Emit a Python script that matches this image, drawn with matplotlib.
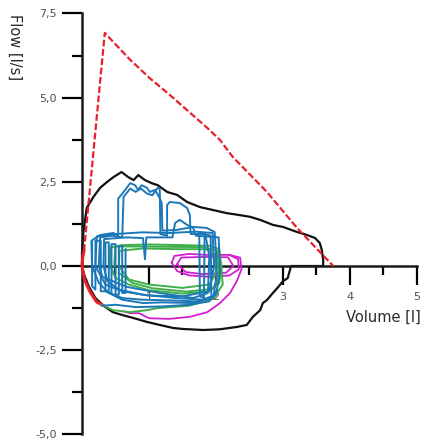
import matplotlib
matplotlib.use('Agg')
import matplotlib.pyplot as plt
from matplotlib.ticker import FixedLocator

# predicted curve (red dashed), with a solid piece near the origin
pred_vol = [0.03, 0.34, 0.72, 1.01, 1.31, 1.87, 2.06, 2.25, 2.76, 3.21, 3.75]
pred_flow = [0.45, 6.92, 6.12, 5.58, 5.08, 4.10, 3.74, 3.24, 2.2, 1.13, 0.0]
pred_low_vol = [0.31, 0.22, 0.12, 0.04, 0.0, 0.01, 0.03]
pred_low_flow = [-1.16, -1.07, -0.77, -0.42, 0.0, 0.25, 0.45]

# maximal loop (black)
max_vol = [0.0, 0.0, 0.02, 0.07, 0.17, 0.27, 0.37, 0.47, 0.59, 0.69, 0.77, 0.84, 0.94, 1.04, 1.13,
           1.27, 1.42, 1.57, 1.76, 1.96, 2.16, 2.36, 2.51, 2.66, 2.85, 3.0, 3.21, 3.36, 3.48, 3.55,
           3.58, 3.6, 3.6, 3.12, 3.07, 3.0, 2.93, 2.85, 2.76, 2.70, 2.66, 2.55, 2.46, 2.31, 2.05,
           1.81, 1.51, 1.36, 1.16, 0.97, 0.76, 0.61, 0.46, 0.31, 0.2, 0.1, 0.03, 0.0]
max_flow = [0.0, 0.4, 1.0, 1.72, 2.05, 2.32, 2.49, 2.64, 2.79, 2.64, 2.55, 2.70, 2.55, 2.46, 2.40,
            2.2, 2.11, 1.90, 1.75, 1.66, 1.57, 1.51, 1.46, 1.37, 1.22, 1.16, 1.01, 0.92, 0.83, 0.68,
            0.47, 0.18, 0.0, 0.0, -0.36, -0.45, -0.62, -0.80, -1.01, -1.10, -1.31, -1.51, -1.75, -1.81, -1.88,
            -1.90, -1.87, -1.84, -1.75, -1.66, -1.54, -1.46, -1.37, -1.16, -0.95, -0.6, -0.25, 0.0]

# magenta tidal loops
mag_loops = [
    ([1.34, 1.38, 1.6, 1.85, 2.2, 2.33, 2.34, 2.2, 1.9, 1.6, 1.42, 1.34],
     [0.1, 0.3, 0.36, 0.33, 0.33, 0.2, -0.1, -0.28, -0.32, -0.28, -0.15, 0.1]),
    ([1.42, 1.48, 1.8, 2.18, 2.26, 2.15, 1.8, 1.55, 1.42],
     [0.05, 0.25, 0.27, 0.26, 0.0, -0.2, -0.24, -0.18, 0.05]),
    ([2.2, 2.36, 2.38, 2.31, 2.21, 2.06, 1.87, 1.61, 1.3, 1.0, 0.85, 0.72, 0.62],
     [0.33, 0.25, -0.1, -0.45, -0.8, -1.1, -1.37, -1.51, -1.57, -1.55, -1.4, -1.4, -1.35]),
]

# green tidal loops
green_loops = [
    ([0.42, 0.42, 0.6, 1.0, 1.5, 1.9, 2.05, 2.08, 2.05, 1.9, 1.5, 1.0, 0.7, 0.5, 0.42],
     [0.0, 0.55, 0.62, 0.64, 0.62, 0.6, 0.5, 0.0, -0.5, -0.75, -0.82, -0.72, -0.55, -0.35, 0.0]),
    ([0.55, 0.56, 0.9, 1.4, 1.85, 1.98, 2.0, 1.9, 1.5, 1.0, 0.7, 0.55],
     [0.0, 0.45, 0.52, 0.5, 0.5, 0.35, -0.2, -0.55, -0.65, -0.55, -0.4, 0.0]),
    ([0.48, 0.5, 0.8, 1.3, 1.8, 2.02, 2.04, 1.95, 1.55, 1.05, 0.75, 0.55],
     [0.0, 0.58, 0.58, 0.57, 0.56, 0.45, -0.35, -0.68, -0.76, -0.66, -0.5, -0.2]),
    ([2.08, 2.1, 1.96, 1.6, 1.12, 0.97, 0.72, 0.46, 0.3],
     [0.0, -0.55, -0.98, -1.18, -1.25, -1.31, -1.37, -1.31, -1.15]),
]

# blue tidal loops
blue_loops = [
    ([0.15, 0.14, 0.27, 0.47, 0.54, 0.54, 0.61, 0.72, 0.79, 0.84, 0.89, 0.97, 1.01, 1.09, 1.16, 1.19,
      1.2, 1.41, 1.66, 1.86, 1.98, 2.0, 2.01, 1.96, 1.66, 1.2, 0.91, 0.6, 0.4, 0.25, 0.15],
     [0.0, 0.75, 0.92, 0.98, 0.9, 2.0, 2.17, 2.46, 2.40, 2.26, 2.40, 2.32, 2.2, 2.26, 2.02, 1.87,
      1.05, 1.07, 1.16, 1.13, 1.01, 0.4, -0.3, -0.92, -1.1, -1.08, -1.1, -1.0, -0.8, -0.5, 0.0]),
    ([0.25, 0.27, 0.45, 0.6, 0.62, 0.72, 0.8, 0.88, 0.97, 1.05, 1.13, 1.16, 1.17, 1.27, 1.27, 1.31,
      1.46, 1.57, 1.61, 1.62, 1.84, 1.9, 1.88, 1.66, 1.16, 0.67, 0.31, 0.25],
     [0.0, 0.85, 0.9, 0.85, 2.05, 2.3, 2.2, 2.3, 2.15, 2.1, 2.32, 2.3, 0.95, 0.9, 1.81, 1.9,
      1.87, 1.72, 1.51, 0.95, 0.95, 0.3, -0.8, -0.95, -0.8, -0.62, -0.33, 0.0]),
    ([0.32, 0.33, 0.67, 0.91, 0.94, 0.96, 1.35, 1.39, 1.46, 1.57, 1.66, 1.7, 2.04, 2.06, 2.0, 1.8,
      1.4, 0.9, 0.55, 0.38, 0.32],
     [0.0, 0.8, 0.85, 0.83, 0.2, 0.85, 0.85, 1.28, 1.37, 1.22, 1.13, 0.9, 0.85, -0.2, -0.85, -1.0,
      -0.95, -0.85, -0.7, -0.45, 0.0]),
    ([0.2, 0.22, 0.5, 0.9, 1.3, 1.7, 1.95, 1.97, 1.9, 1.5, 1.0, 0.6, 0.35, 0.2],
     [0.0, 0.88, 0.95, 1.0, 0.98, 1.02, 0.98, 0.0, -0.75, -0.9, -0.88, -0.75, -0.55, 0.0]),
    ([0.15, 0.15, 0.2, 0.2, 0.28, 0.28, 0.35, 0.35, 0.4, 0.4, 0.44, 0.44, 0.5, 0.5, 0.55, 0.55,
      0.6, 0.6, 0.65, 0.65],
     [0.7, -0.6, -0.7, 0.75, 0.75, -0.75, -0.75, 0.7, 0.7, -0.8, -0.8, 0.65, 0.65, -0.85, -0.85, 0.6,
      0.6, -0.8, -0.8, 0.5]),
    ([1.75, 1.76, 1.82, 1.83, 1.92, 1.93],
     [1.0, -0.9, -0.95, 0.95, 0.9, -0.85]),
    ([0.3, 0.5, 0.8, 1.2, 1.6, 1.9, 2.02],
     [-1.18, -1.15, -1.22, -1.2, -1.15, -1.05, -0.7]),
    ([0.35, 0.6, 0.9, 1.3, 1.7, 1.95],
     [-0.75, -0.95, -1.0, -1.02, -1.05, -0.95]),
]

x_ticks = [1, 2, 3, 4, 5]
x_minor = [0.5, 1.5, 2.5, 3.5, 4.5]
y_ticks = [-5.0, -2.5, 0.0, 2.5, 5.0, 7.5]
y_minor = [-3.75, -1.25, 1.25, 3.75, 6.25]
y_labels = ['-5,0', '-2,5', '0,0', '2,5', '5,0', '7,5']

fig = plt.figure(figsize=(4.22, 4.46), dpi=100)
ax = fig.add_axes([0, 0, 1, 1])
ax.set_xlim(-1.224, 5.075)
ax.set_ylim(-5.344, 7.898)

ax.plot(max_vol, max_flow, color='#111111', lw=1.6, zorder=2)
ax.plot(pred_vol, pred_flow, color='#e8202a', lw=1.6, ls=(0, (3, 1.2)), zorder=3)
ax.plot(pred_low_vol, pred_low_flow, color='#e8202a', lw=2.2, zorder=3)
for v, f in mag_loops:
    ax.plot(v, f, color='#d21ed2', lw=1.3, zorder=3)
for v, f in green_loops:
    ax.plot(v, f, color='#3fae49', lw=1.4, zorder=4)
for v, f in blue_loops:
    ax.plot(v, f, color='#1b78b8', lw=1.4, zorder=5)

ax.set_axisbelow(True)
for s in ['top', 'right']:
    ax.spines[s].set_visible(False)
ax.spines['left'].set_position(('data', 0))
ax.spines['bottom'].set_position(('data', 0))
ax.spines['left'].set_bounds(-5, 7.5)
ax.spines['bottom'].set_bounds(0, 5)
for s in ['left', 'bottom']:
    ax.spines[s].set_linewidth(1.8)
    ax.spines[s].set_color('#1a1a1a')

ax.xaxis.set_major_locator(FixedLocator(x_ticks))
ax.xaxis.set_minor_locator(FixedLocator(x_minor))
ax.set_xticklabels([str(t) for t in x_ticks])
ax.yaxis.set_major_locator(FixedLocator(y_ticks))
ax.yaxis.set_minor_locator(FixedLocator(y_minor))
ax.set_yticklabels(y_labels)
ax.tick_params(axis='x', which='major', direction='out', length=13.5, width=1.6,
               labelsize=8, labelcolor='#505050', pad=5)
ax.tick_params(axis='x', which='minor', direction='out', length=6.5, width=1.6)
ax.tick_params(axis='y', which='major', direction='out', length=14.4, width=1.6,
               labelsize=8, labelcolor='#505050', pad=3.6)
ax.tick_params(axis='y', which='minor', direction='out', length=7.2, width=1.6)

fig.text(15 / 422, 1 - 47 / 446, 'Flow [l/s]', rotation=-90, ha='center', va='center',
         fontsize=10.5, color='#2a2a2a')
fig.text(421 / 422, 1 - 317 / 446, 'Volume [l]', ha='right', va='center',
         fontsize=10.5, color='#2a2a2a')

fig.savefig('out.png', dpi=100)
